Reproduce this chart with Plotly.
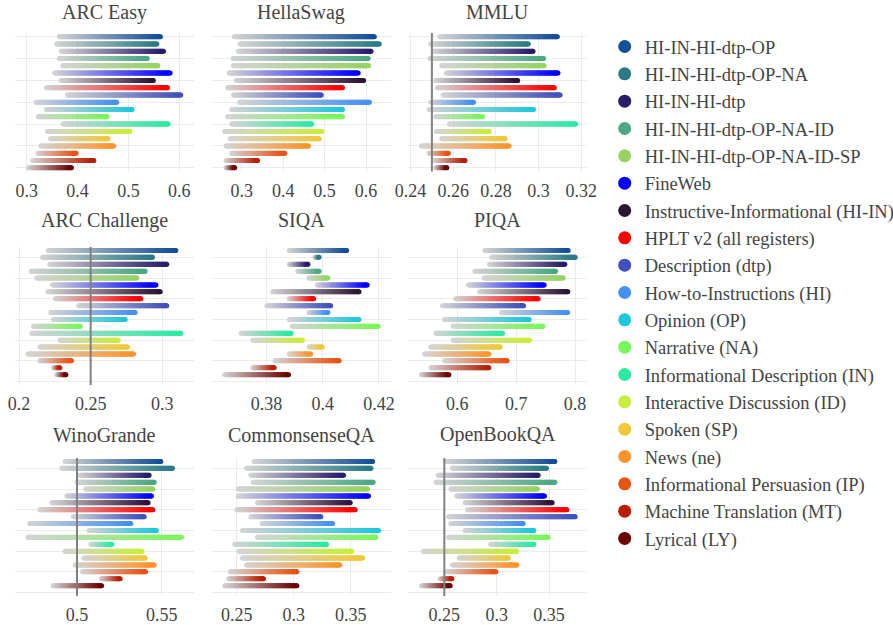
import numpy as np
import plotly.graph_objects as go

models = [
    "HI-IN-HI-dtp-OP", "HI-IN-HI-dtp-OP-NA", "HI-IN-HI-dtp", "HI-IN-HI-dtp-OP-NA-ID",
    "HI-IN-HI-dtp-OP-NA-ID-SP", "FineWeb", "Instructive-Informational (HI-IN)",
    "HPLT v2 (all registers)", "Description (dtp)", "How-to-Instructions (HI)",
    "Opinion (OP)", "Narrative (NA)", "Informational Description (IN)",
    "Interactive Discussion (ID)", "Spoken (SP)", "News (ne)",
    "Informational Persuasion (IP)", "Machine Translation (MT)", "Lyrical (LY)",
]
colors = [
    "#154f96", "#2a7b86", "#2a1c6a", "#4aa882", "#96d264", "#0000ff", "#2d1535",
    "#ff0000", "#4150bc", "#4590f5", "#1ec8dc", "#78f85a", "#2aeaa2", "#c8ee38",
    "#f0c83a", "#ff942c", "#e85212", "#b81e02", "#6c0303",
]

benchmarks = ["ARC Easy", "HellaSwag", "MMLU", "ARC Challenge", "SIQA", "PIQA",
              "WinoGrande", "CommonsenseQA", "OpenBookQA"]

# score at first checkpoint (start) and final checkpoint (end)
arc_easy_start = [0.364, 0.359, 0.368, 0.364, 0.371, 0.355, 0.368, 0.339, 0.380, 0.318,
                  0.339, 0.323, 0.372, 0.341, 0.347, 0.328, 0.322, 0.312, 0.304]
arc_easy_end = [0.563, 0.556, 0.569, 0.537, 0.558, 0.582, 0.549, 0.577, 0.603, 0.477,
                0.507, 0.458, 0.578, 0.503, 0.460, 0.471, 0.397, 0.432, 0.388]

hellaswag_start = [0.282, 0.296, 0.292, 0.279, 0.280, 0.270, 0.287, 0.266, 0.280, 0.295,
                   0.276, 0.266, 0.276, 0.259, 0.272, 0.262, 0.276, 0.262, 0.262]
hellaswag_end = [0.620, 0.632, 0.612, 0.605, 0.606, 0.581, 0.594, 0.543, 0.492, 0.608,
                 0.543, 0.543, 0.469, 0.493, 0.487, 0.461, 0.404, 0.338, 0.283]

mmlu_start = [0.2537, 0.2495, 0.2507, 0.2491, 0.2546, 0.2568, 0.2518, 0.2526, 0.2552, 0.2495,
              0.2487, 0.2518, 0.2582, 0.2521, 0.2546, 0.2451, 0.2487, 0.2513, 0.2518]
mmlu_end = [0.3088, 0.2952, 0.2974, 0.3023, 0.3026, 0.3091, 0.2902, 0.3074, 0.3101, 0.2695,
            0.2976, 0.2737, 0.3174, 0.2768, 0.2843, 0.2862, 0.2577, 0.2655, 0.2570]

arc_challenge_start = [0.2203, 0.2164, 0.2215, 0.2085, 0.2124, 0.2234, 0.2203, 0.2252, 0.2415, 0.2222,
                       0.2241, 0.2101, 0.2090, 0.2285, 0.2145, 0.2062, 0.2145, 0.2241, 0.2264]
arc_challenge_end = [0.3094, 0.2931, 0.3031, 0.2880, 0.2822, 0.2955, 0.2985, 0.2850, 0.3031, 0.2810,
                     0.2741, 0.2427, 0.3129, 0.2692, 0.2757, 0.2799, 0.2366, 0.2285, 0.2327]

siqa_start = [0.3881, 0.3972, 0.3881, 0.3911, 0.3951, 0.3981, 0.3822, 0.3881, 0.3801, 0.3951,
              0.3881, 0.3891, 0.3710, 0.3751, 0.3951, 0.3881, 0.3830, 0.3751, 0.3651]
siqa_end = [0.4085, 0.3987, 0.3947, 0.3987, 0.4018, 0.4158, 0.4129, 0.3967, 0.4028, 0.4018,
            0.4129, 0.4197, 0.3887, 0.3928, 0.3998, 0.3957, 0.4058, 0.3827, 0.3878]

piqa_start = [0.6467, 0.6581, 0.6547, 0.6297, 0.6456, 0.6190, 0.6377, 0.5969, 0.5748, 0.6751,
              0.5782, 0.5929, 0.5635, 0.5929, 0.5550, 0.5442, 0.5788, 0.5550, 0.5391]
piqa_end = [0.7884, 0.8003, 0.7827, 0.7669, 0.7799, 0.7476, 0.7878, 0.7374, 0.7125, 0.7873,
            0.7221, 0.7453, 0.6768, 0.7227, 0.6728, 0.6535, 0.6847, 0.6535, 0.5856]

winogrande_start = [0.4930, 0.4910, 0.5017, 0.5001, 0.5052, 0.4940, 0.4851, 0.4781, 0.4979, 0.4721,
                    0.5072, 0.4710, 0.5082, 0.4930, 0.5040, 0.4989, 0.5032, 0.5143, 0.4859]
winogrande_end = [0.5495, 0.5564, 0.5426, 0.5456, 0.5448, 0.5440, 0.5420, 0.5448, 0.5397, 0.5318,
                  0.5468, 0.5617, 0.5206, 0.5383, 0.5403, 0.5456, 0.5405, 0.5255, 0.5145]

commonsenseqa_start = [0.2654, 0.2586, 0.2624, 0.2645, 0.2513, 0.2513, 0.2683, 0.2501, 0.2624, 0.2724,
                       0.2551, 0.2683, 0.2484, 0.2522, 0.2551, 0.2586, 0.2443, 0.2431, 0.2396]
commonsenseqa_end = [0.3692, 0.3677, 0.3437, 0.3697, 0.3648, 0.3656, 0.3496, 0.3539, 0.3238, 0.3341,
                     0.3744, 0.3721, 0.3288, 0.3507, 0.3604, 0.3405, 0.3028, 0.2735, 0.3028]

openbookqa_start = [0.2514, 0.2578, 0.2441, 0.2422, 0.2562, 0.2619, 0.2699, 0.2721, 0.2540, 0.2562,
                    0.2699, 0.2540, 0.2944, 0.2301, 0.2642, 0.2578, 0.2521, 0.2460, 0.2282]
openbookqa_end = [0.3556, 0.3476, 0.3396, 0.3556, 0.3390, 0.3457, 0.3530, 0.3670, 0.3750, 0.3253,
                  0.3355, 0.3492, 0.3355, 0.3193, 0.3113, 0.3193, 0.2992, 0.2572, 0.2556]

starts = [arc_easy_start, hellaswag_start, mmlu_start, arc_challenge_start, siqa_start,
          piqa_start, winogrande_start, commonsenseqa_start, openbookqa_start]
ends = [arc_easy_end, hellaswag_end, mmlu_end, arc_challenge_end, siqa_end,
        piqa_end, winogrande_end, commonsenseqa_end, openbookqa_end]

# random-chance baselines (None = outside the visible range)
baselines = [None, None, 0.25, 0.25, None, None, 0.5, None, 0.25]

# axis styling
x_ranges = [[0.277, 0.629], [0.227, 0.659], [0.2388, 0.3227],
            [0.1972, 0.3221], [0.3604, 0.4241], [0.5161, 0.8204],
            [0.4634, 0.5691], [0.2279, 0.3849], [0.2153, 0.3863]]
x_dticks = [0.1, 0.1, 0.02, 0.05, 0.02, 0.1, 0.05, 0.05, 0.05]

# layout geometry (pixels)
W, H = 893, 625
M_L, M_R, M_T, M_B = 15, 306, 28, 29
PW, PH = W - M_L - M_R, H - M_T - M_B
col_px = [(15, 194), (211.5, 390.5), (408, 587)]
row_px = [(33, 171.5), (247, 385), (458, 596)]
row_title_px = [12.5, 220, 434.5]

GREY = np.array([212, 212, 212], dtype=float)
FONT = "Liberation Serif, Times New Roman, Times, serif"


def hex_rgb(h):
    h = h.lstrip("#")
    return np.array([int(h[i:i + 2], 16) for i in (0, 2, 4)], dtype=float)


fig = go.Figure()
layout = dict()
annotations = []
shapes = []

for k, name in enumerate(benchmarks):
    r, c = divmod(k, 3)
    xid = "x" if k == 0 else f"x{k + 1}"
    yid = "y" if k == 0 else f"y{k + 1}"
    xr = x_ranges[k]
    px_per_unit = (col_px[c][1] - col_px[c][0]) / (xr[1] - xr[0])

    xs, ys, cs = [], [], []
    for i in range(len(models)):
        s, e = starts[k][i], ends[k][i]
        n = max(int(abs(e - s) * px_per_unit * 1.5), 2)
        t = np.linspace(0, 1, n)
        xs.extend(list(s + (e - s) * t))
        ys.extend([i] * n)
        base = hex_rgb(colors[i])
        for tt in t:
            col = GREY + (base - GREY) * tt
            cs.append("rgb(%d,%d,%d)" % tuple(np.round(col)))
    fig.add_trace(go.Scatter(
        x=xs, y=ys, mode="markers", xaxis=xid, yaxis=yid,
        marker=dict(size=5, color=cs, line=dict(width=0)),
        showlegend=False, hoverinfo="skip"))

    xd = [(col_px[c][0] - M_L) / PW, (col_px[c][1] - M_L) / PW]
    yd = [(H - M_B - row_px[r][1]) / PH, (H - M_B - row_px[r][0]) / PH]
    if r == 0:
        yrange = [18.5, -0.5]
        ytv = list(range(0, 19, 3))
    else:
        yrange = [19.5, -0.5]
        ytv = list(range(1, 20, 3))
    key_x = "xaxis" if k == 0 else f"xaxis{k + 1}"
    key_y = "yaxis" if k == 0 else f"yaxis{k + 1}"
    layout[key_x] = dict(domain=xd, anchor=yid, range=xr, tick0=0, dtick=x_dticks[k],
                         showgrid=True, gridcolor="#ebebeb", gridwidth=1,
                         zeroline=False, showline=False, ticks="",
                         ticklabelstandoff=6,
                         tickfont=dict(size=18, color="#444", family=FONT))
    layout[key_y] = dict(domain=yd, anchor=xid, range=yrange, tickmode="array",
                         tickvals=ytv, showticklabels=False,
                         showgrid=True, gridcolor="#ebebeb", gridwidth=1,
                         zeroline=False, showline=False, ticks="")
    annotations.append(dict(
        text=name, x=(xd[0] + xd[1]) / 2, xref="paper", xanchor="center",
        y=(H - M_B - row_title_px[r]) / PH, yref="paper", yanchor="middle",
        showarrow=False, font=dict(size=20, color="#444", family=FONT)))
    if baselines[k] is not None:
        shapes.append(dict(type="line", xref=xid, yref=f"{yid} domain",
                           x0=baselines[k], x1=baselines[k], y0=0, y1=1,
                           line=dict(color="#808080", width=2), layer="above"))

for i, m in enumerate(models):
    fig.add_trace(go.Scatter(
        x=[None], y=[None], mode="markers", name=m, legendgroup=m,
        marker=dict(size=13, color=colors[i]), xaxis="x", yaxis="y"))

fig.update_layout(
    width=W, height=H,
    margin=dict(l=M_L, r=M_R, t=M_T, b=M_B, autoexpand=False),
    paper_bgcolor="white", plot_bgcolor="white",
    font=dict(family=FONT, size=18, color="#444"),
    legend=dict(x=(604.7 - M_L) / PW, y=1.0, xanchor="left", yanchor="top",
                font=dict(size=18.5, color="#444", family=FONT), tracegroupgap=0.28,
                itemsizing="trace", bgcolor="rgba(0,0,0,0)"),
    annotations=annotations, shapes=shapes,
    **layout,
)

fig.write_html("out.html", config={"displayModeBar": False},
               post_script="document.body.style.margin='0';")
